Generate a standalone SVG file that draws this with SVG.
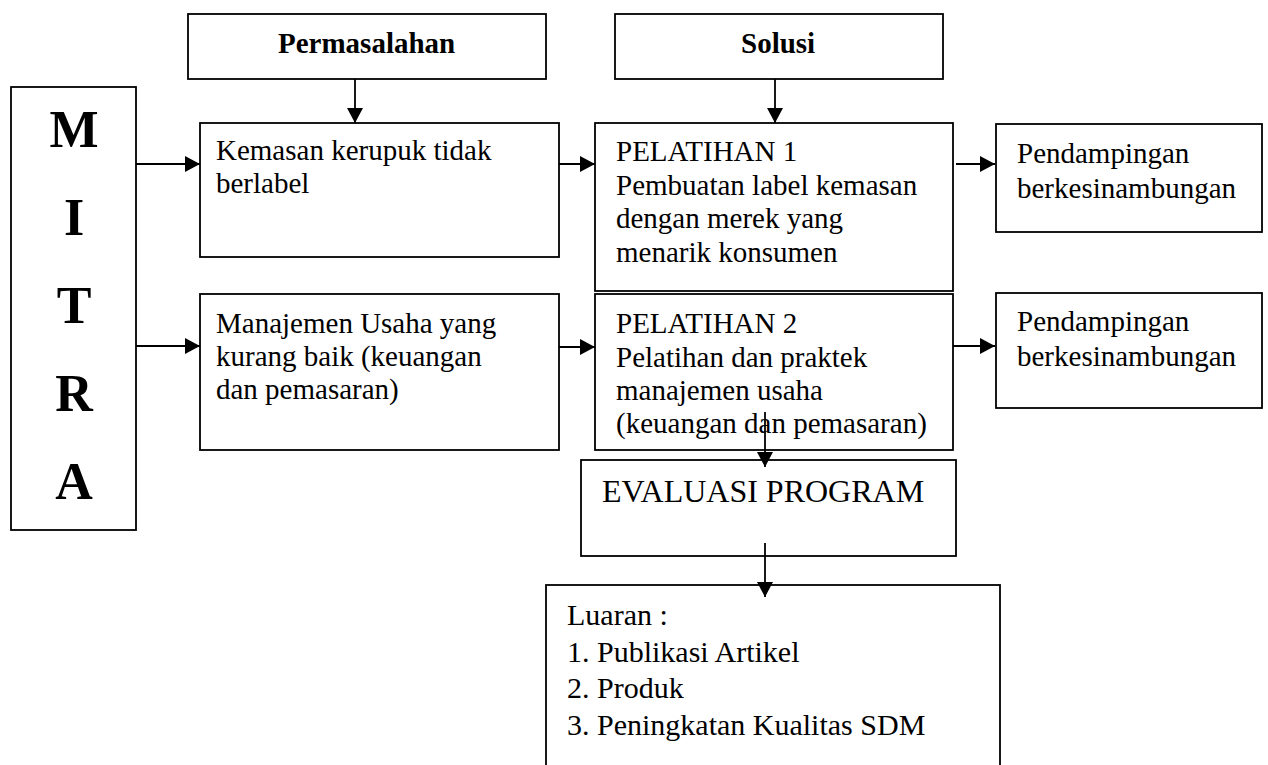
<svg xmlns="http://www.w3.org/2000/svg" width="1268" height="765" viewBox="0 0 1268 765">
<style>
.box{fill:#fff;stroke:#000;stroke-width:1.8}
.t{font-family:"Liberation Serif","Times New Roman",serif;font-size:29px;fill:#000}
.b{font-weight:bold}
.m{font-family:"Liberation Serif","Times New Roman",serif;font-size:52px;font-weight:bold;text-anchor:middle;fill:#000}
.c{stroke:#000;stroke-width:1.8;fill:none}
</style>
<defs>
<marker id="ah" markerUnits="userSpaceOnUse" markerWidth="16" markerHeight="16" refX="15" refY="8" orient="auto">
<path d="M0,0 L15,8 L0,16 Z" fill="#000"/>
</marker>
</defs>
<rect width="1268" height="765" fill="#fff"/>
<g id="permasalahan"><rect class="box" x="188" y="14" width="358" height="65"/><text class="t b" x="278" y="53">Permasalahan</text></g>
<g id="solusi"><rect class="box" x="615" y="14" width="328" height="65"/><text class="t b" x="741" y="53">Solusi</text></g>
<g id="mitra"><rect class="box" x="11" y="87" width="125" height="443"/>
<text class="m" x="74" y="147">M</text><text class="m" x="74" y="235">I</text><text class="m" x="74" y="323">T</text><text class="m" x="74" y="411">R</text><text class="m" x="74" y="499">A</text></g>
<g id="kemasan"><rect class="box" x="200" y="123" width="359" height="134"/><text class="t" x="216" y="160">Kemasan kerupuk tidak</text><text class="t" x="216" y="193">berlabel</text></g>
<g id="manajemen"><rect class="box" x="200" y="294" width="359" height="156"/><text class="t" x="216" y="333">Manajemen Usaha yang</text><text class="t" x="216" y="366">kurang baik (keuangan</text><text class="t" x="216" y="399">dan pemasaran)</text></g>
<g id="pelatihan1"><rect class="box" x="595" y="123" width="358" height="168"/><text class="t" x="616" y="161">PELATIHAN 1</text><text class="t" x="616" y="194.5">Pembuatan label kemasan</text><text class="t" x="616" y="228">dengan merek yang</text><text class="t" x="616" y="262">menarik konsumen</text></g>
<g id="pelatihan2"><rect class="box" x="595" y="294" width="358" height="156"/><text class="t" x="616" y="333">PELATIHAN 2</text><text class="t" x="616" y="366.5">Pelatihan dan praktek</text><text class="t" x="616" y="400">manajemen usaha</text><text class="t" x="616" y="433">(keuangan dan pemasaran)</text></g>
<g id="pendampingan1"><rect class="box" x="996" y="124" width="266" height="108"/><text class="t" x="1017" y="163">Pendampingan</text><text class="t" x="1017" y="198">berkesinambungan</text></g>
<g id="pendampingan2"><rect class="box" x="996" y="293" width="266" height="115"/><text class="t" x="1017" y="331">Pendampingan</text><text class="t" x="1017" y="366">berkesinambungan</text></g>
<g id="evaluasi"><rect class="box" x="581" y="460" width="375" height="96"/><text class="t" x="602" y="502" style="font-size:32px">EVALUASI PROGRAM</text></g>
<g id="luaran"><rect class="box" x="546" y="585" width="454" height="190"/>
<text class="t" x="567" y="625" style="font-size:30px">Luaran :</text>
<text class="t" x="567" y="662" style="font-size:30px">1. Publikasi Artikel</text>
<text class="t" x="567" y="698" style="font-size:30px">2. Produk</text>
<text class="t" x="567" y="735" style="font-size:30px">3. Peningkatan Kualitas SDM</text></g>
<g id="connectors">
<line class="c" x1="355" y1="79" x2="355" y2="123" marker-end="url(#ah)"/>
<line class="c" x1="775" y1="79" x2="775" y2="123" marker-end="url(#ah)"/>
<line class="c" x1="136" y1="164" x2="200" y2="164" marker-end="url(#ah)"/>
<line class="c" x1="559" y1="164" x2="595" y2="164" marker-end="url(#ah)"/>
<line class="c" x1="956" y1="164" x2="995" y2="164" marker-end="url(#ah)"/>
<line class="c" x1="136" y1="346" x2="200" y2="346" marker-end="url(#ah)"/>
<line class="c" x1="559" y1="347" x2="595" y2="347" marker-end="url(#ah)"/>
<line class="c" x1="953" y1="346" x2="995" y2="346" marker-end="url(#ah)"/>
<line class="c" x1="765" y1="412" x2="765" y2="467" marker-end="url(#ah)"/>
<line class="c" x1="765" y1="543" x2="765" y2="597" marker-end="url(#ah)"/>
</g>
</svg>
